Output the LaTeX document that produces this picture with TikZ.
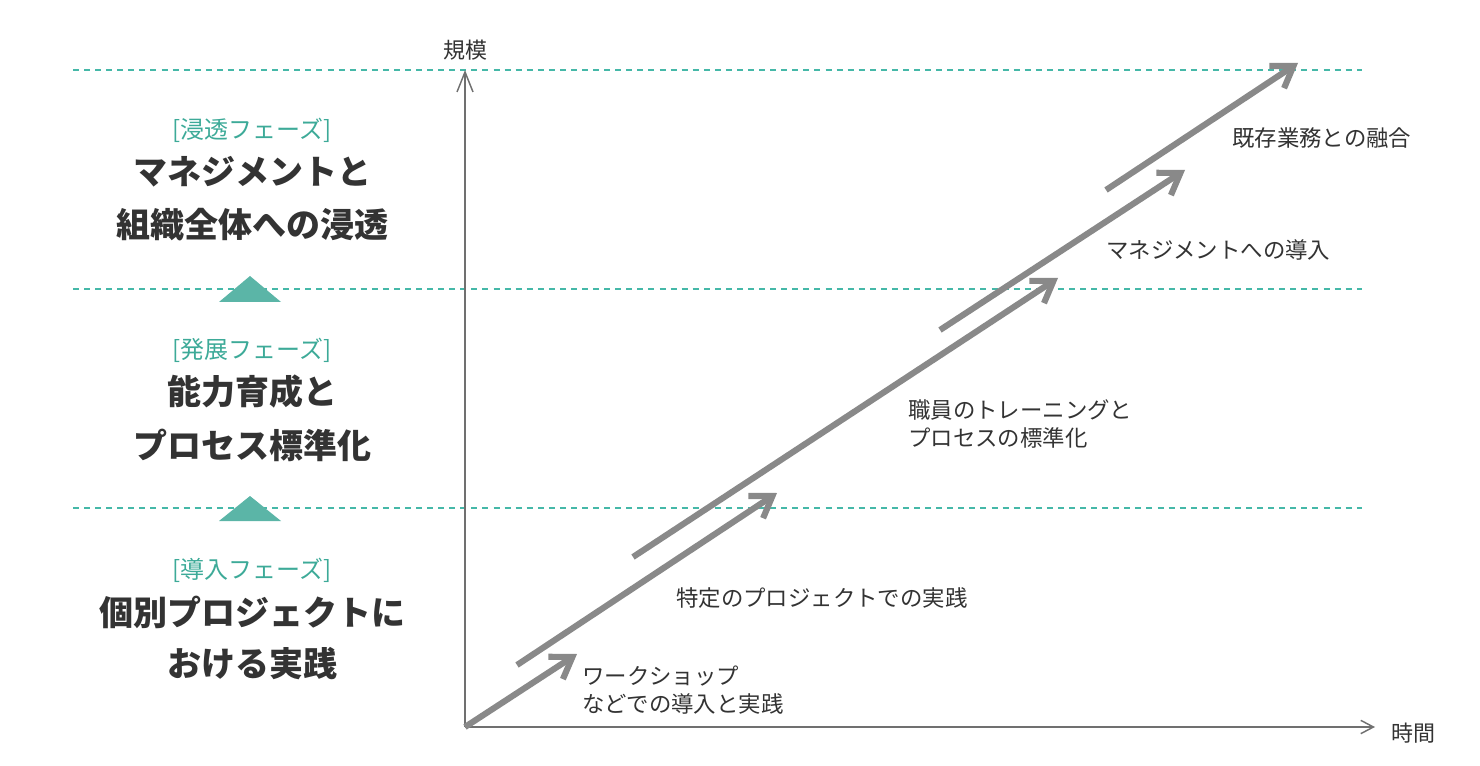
\documentclass[tikz,border=0pt]{standalone}
\usepackage{fontspec}
\setmainfont{Noto Sans CJK JP}
\usetikzlibrary{arrows.meta}
\definecolor{tealline}{HTML}{45B8A8}
\definecolor{tealfill}{HTML}{5BB5A7}
\definecolor{tealtext}{HTML}{3DAA98}
\definecolor{arrowgray}{HTML}{898989}
\definecolor{axisgray}{HTML}{707070}
\definecolor{txt}{HTML}{333333}
\tikzset{
  phaseline/.style={tealline, line width=1.1pt, dash pattern=on 4.5pt off 3.8pt},
  trifill/.style={fill=tealfill, draw=none},
  growarrow/.style={arrowgray, line width=4.6pt, -{Straight Barb[length=15pt, width=20pt, line width=4.6pt]}},
  axisline/.style={axisgray, line width=1.1pt},
  phasetag/.style={text=tealtext, font=\fontsize{18}{20}\selectfont, inner sep=0pt},
  phasetitle/.style={text=txt, font=\bfseries\fontsize{25.5}{28}\selectfont, inner sep=0pt},
  textlabel/.style={text=txt, font=\fontsize{16.8}{19}\selectfont, inner sep=0pt, anchor=west},
}
\begin{document}
\begin{tikzpicture}[x=0.75pt, y=-0.75pt]
\useasboundingbox (0,0) rectangle (1480,766);
% dashed phase lines
\draw[phaseline] (73,70) -- (1362,70);
\draw[phaseline] (73,289) -- (1362,289);
\draw[phaseline] (73,508) -- (1362,508);
% triangles
\fill[trifill] (219,302) -- (250,276) -- (281,302) -- cycle;
\fill[trifill] (219,521) -- (250,496) -- (281,521) -- cycle;
% axes
\coordinate (O) at (465,727);
\coordinate (Ytop) at (465,70);
\coordinate (Xend) at (1375,727);
\draw[axisline, -{Straight Barb[length=15pt, width=12pt, line width=1.1pt]}] (O) -- (Ytop);
\draw[axisline, -{Straight Barb[length=9.5pt, width=10pt, line width=1.1pt]}] (O) -- (Xend);
\node[text=txt, font=\fontsize{16.5}{18}\selectfont, inner sep=0pt] (ylab) at (465,50) {規模};
\node[text=txt, font=\fontsize{16.5}{18}\selectfont, inner sep=0pt] (xlab) at (1413,733) {時間};
% growth arrows
\coordinate (a1s) at (465,727); \coordinate (a1e) at (577,654);
\coordinate (a2s) at (517,665); \coordinate (a2e) at (777,493);
\coordinate (a3s) at (633,557); \coordinate (a3e) at (1058,278);
\coordinate (a4s) at (940,330); \coordinate (a4e) at (1185,170);
\coordinate (a5s) at (1106,190); \coordinate (a5e) at (1298,63);
\draw[growarrow] (a1s) -- (a1e);
\draw[growarrow] (a2s) -- (a2e);
\draw[growarrow] (a3s) -- (a3e);
\draw[growarrow] (a4s) -- (a4e);
\draw[growarrow] (a5s) -- (a5e);
% step labels
\node[textlabel] (s5) at (1232,138) {既存業務との融合};
\node[textlabel] (s4) at (1106,250) {マネジメントへの導入};
\node[textlabel] (s3a) at (908,410) {職員のトレーニングと};
\node[textlabel] (s3b) at (908,438) {プロセスの標準化};
\node[textlabel] (s2) at (676,598) {特定のプロジェクトでの実践};
\node[textlabel] (s1a) at (582,676) {ワークショップ};
\node[textlabel] (s1b) at (582,704) {などでの導入と実践};
% phase labels
\node[phasetag] (p3t) at (252,130) {[浸透フェーズ]};
\node[phasetitle] (p3a) at (252,172) {マネジメントと};
\node[phasetitle] (p3b) at (252,225) {組織全体への浸透};
\node[phasetag] (p2t) at (252,350) {[発展フェーズ]};
\node[phasetitle] (p2a) at (252,392) {能力育成と};
\node[phasetitle] (p2b) at (252,445) {プロセス標準化};
\node[phasetag] (p1t) at (252,570) {[導入フェーズ]};
\node[phasetitle] (p1a) at (252,612) {個別プロジェクトに};
\node[phasetitle] (p1b) at (252,664) {おける実践};
\end{tikzpicture}
\end{document}
